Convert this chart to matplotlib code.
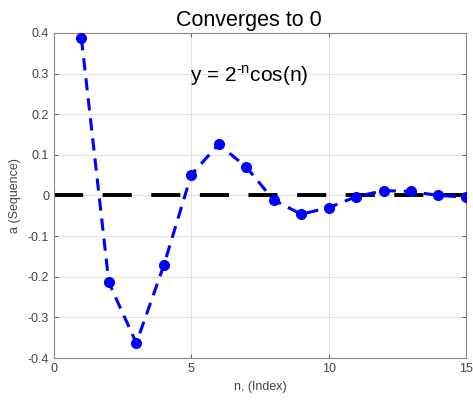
import matplotlib.pyplot as plt

plt.rcParams['font.family'] = ['Liberation Sans', 'DejaVu Sans']
plt.rcParams['mathtext.fontset'] = 'custom'
plt.rcParams['mathtext.rm'] = 'Liberation Sans'

# sequence values
n = [1, 2, 3, 4, 5, 6, 7, 8, 9, 10, 11, 12, 13, 14, 15]
a = [0.387, -0.214, -0.363, -0.172, 0.051, 0.126, 0.070, -0.011,
     -0.046, -0.030, -0.003, 0.012, 0.010, 0.000, -0.004]

fig = plt.figure(figsize=(4.73, 4.01), dpi=100)
ax = fig.add_axes([0.114, 0.107, 0.871, 0.811])

ax.plot(n, a, '--', color='blue', linewidth=2.2, marker='o', markersize=7,
        dashes=(4, 2.6), zorder=3)
ax.plot([0, 15], [0, 0], color='black', linewidth=2.8, dashes=(7.5, 5), zorder=2)

ax.text(4.95, 0.295, r'y = 2$^{\mathregular{\text{-}n}}$cos(n)', fontsize=15, va='center')

ax.set_xlim(0, 15)
ax.set_ylim(-0.4, 0.4)
ax.set_xticks([0, 5, 10, 15])
ax.set_yticks([-0.4, -0.3, -0.2, -0.1, 0, 0.1, 0.2, 0.3, 0.4])
ax.set_yticklabels(['-0.4', '-0.3', '-0.2', '-0.1', '0', '0.1', '0.2', '0.3', '0.4'])
ax.grid(True, color='#e3e3e3', linewidth=0.8)
ax.set_axisbelow(True)
ax.tick_params(direction='in', top=True, right=True, labelsize=9,
               colors='#444444', length=3, width=0.6)
for s in ax.spines.values():
    s.set_color('#888888')
    s.set_linewidth(0.8)

ax.set_title('Converges to 0', fontsize=15.5, pad=5, x=0.473)
ax.set_xlabel('n, (Index)', fontsize=9, color='#444444', labelpad=4)
ax.set_ylabel('a (Sequence)', fontsize=9, color='#444444', labelpad=5)

fig.savefig('out.png', dpi=100)
